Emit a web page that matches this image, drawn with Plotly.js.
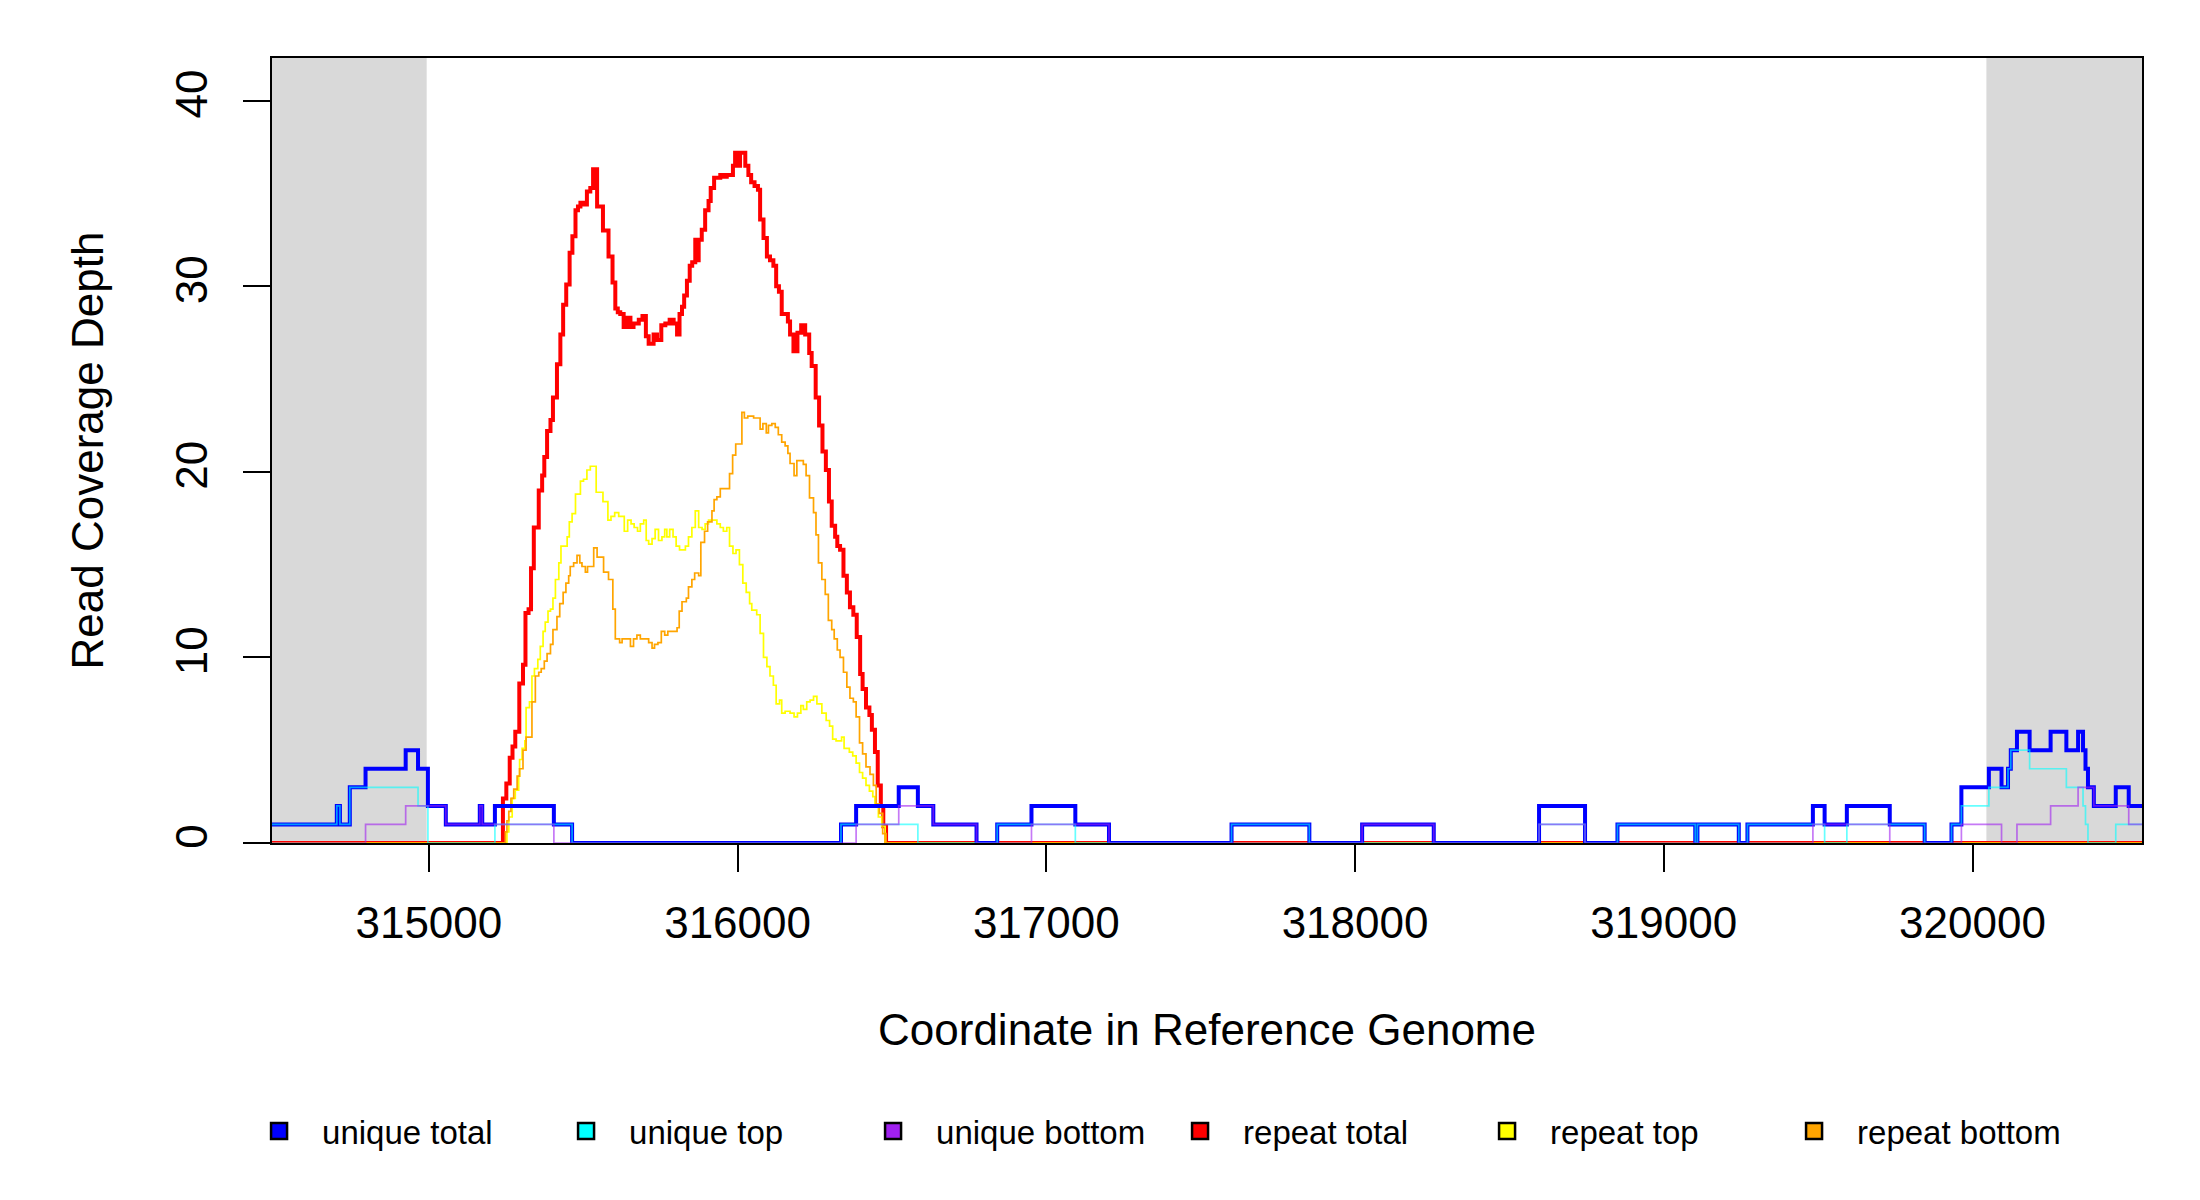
<!DOCTYPE html>
<html>
<head>
<meta charset="utf-8">
<script src="https://cdn.plot.ly/plotly-3.0.1.min.js"></script>
<style>
  html, body { margin: 0; padding: 0; background: #fff; }
  #chart { width: 2200px; height: 1200px; }
</style>
</head>
<body>
<div id="chart"></div>
<script>
// coverage values, step starts (bp) and depth
const xRange = [314492, 320549];
const yRange = [0, 42.3];
const flankLeft = [314492, 314993];
const flankRight = [320045, 320549];

const tickVals = [315000, 316000, 317000, 318000, 319000, 320000];
const tickText = ['315000', '316000', '317000', '318000', '319000', '320000'];
const yTickVals = [0, 10, 20, 30, 40];

const uniqueTotalX = [314480, 314702, 314712, 314744, 314795, 314925, 314965, 314997, 315055, 315165,
  315173, 315214, 315405, 315464, 316335, 316384, 316522, 316584, 316634, 316774,
  316841, 316952, 317094, 317203, 317600, 317852, 318023, 318255, 318596, 318745,
  318850, 319102, 319109, 319243, 319271, 319483, 319521, 319593, 319732, 319845,
  319932, 319964, 320053, 320094, 320115, 320124, 320144, 320185, 320253, 320304,
  320342, 320358, 320366, 320374, 320393, 320464, 320506, 320560];
const uniqueTotalY = [1, 2, 1, 3, 4, 5, 4, 2, 1, 2,
  1, 2, 1, 0, 1, 2, 3, 2, 1, 0,
  1, 2, 1, 0, 1, 0, 1, 0, 2, 0,
  1, 0, 1, 0, 1, 2, 1, 2, 1, 0,
  1, 3, 4, 3, 4, 5, 6, 5, 6, 5,
  6, 5, 4, 3, 2, 3, 2, 2];

const uniqueTopX = [314480, 314702, 314712, 314744, 314965, 314997, 315214, 315464, 316335, 316584,
  316841, 317094, 317600, 317852, 318596, 318745, 318850, 319102, 319109, 319243,
  319271, 319521, 319593, 319845, 319932, 319964, 320053, 320115, 320124, 320185,
  320304, 320358, 320366, 320374, 320464, 320560];
const uniqueTopY = [1, 2, 1, 3, 2, 0, 1, 0, 1, 0,
  1, 0, 1, 0, 1, 0, 1, 0, 1, 0,
  1, 0, 1, 0, 1, 2, 3, 4, 5, 4,
  3, 2, 1, 0, 1, 1];

const uniqueBottomX = [314480, 314795, 314925, 315055, 315165, 315173, 315405, 316384, 316522, 316634,
  316774, 316952, 317203, 318023, 318255, 318596, 318745, 319483, 319732, 319964,
  320094, 320144, 320253, 320342, 320393, 320506, 320560];
const uniqueBottomY = [0, 1, 2, 1, 2, 1, 0, 1, 2, 1,
  0, 1, 0, 1, 0, 1, 0, 1, 0, 1,
  0, 1, 2, 3, 2, 1, 1];

const repeatTotalX = [314480, 315240, 315251, 315262, 315271, 315280, 315293, 315305, 315313, 315323,
  315331, 315340, 315356, 315367, 315374, 315383, 315394, 315402, 315415, 315426,
  315435, 315445, 315456, 315465, 315475, 315483, 315491, 315504, 315512, 315523,
  315532, 315545, 315564, 315582, 315595, 315604, 315612, 315620, 315631, 315642,
  315653, 315663, 315680, 315692, 315703, 315712, 315728, 315739, 315753, 315766,
  315780, 315793, 315804, 315812, 315820, 315827, 315836, 315845, 315853, 315863,
  315868, 315874, 315884, 315895, 315906, 315913, 315924, 315944, 315954, 315965,
  315985, 315992, 316003, 316008, 316025, 316035, 316044, 316055, 316066, 316073,
  316084, 316095, 316105, 316116, 316125, 316134, 316143, 316163, 316170, 316181,
  316194, 316206, 316219, 316232, 316240, 316253, 316264, 316275, 316286, 316296,
  316305, 316316, 316323, 316332, 316343, 316354, 316364, 316375, 316386, 316397,
  316405, 316416, 316427, 316435, 316445, 316454, 316464, 316472, 316481, 320560];
const repeatTotalY = [0, 2.4, 3.2, 4.6, 5.2, 6.0, 8.6, 9.6, 12.4, 12.6,
  14.8, 17.0, 19.0, 19.8, 20.8, 22.2, 22.8, 24.0, 25.8, 27.4,
  29.0, 30.1, 31.8, 32.7, 34.1, 34.3, 34.5, 34.4, 35.1, 35.3,
  36.3, 34.3, 33.0, 31.6, 30.2, 28.8, 28.6, 28.5, 27.8, 28.3,
  27.8, 28.0, 28.2, 28.4, 27.3, 26.9, 27.4, 27.1, 27.9, 28.0,
  28.2, 28.0, 27.4, 28.5, 28.9, 29.5, 30.3, 31.1, 31.3, 32.5,
  31.4, 32.5, 33.05, 34.1, 34.6, 35.3, 35.85, 36.0, 35.9, 36.0,
  36.5, 37.2, 36.5, 37.2, 36.5, 36.0, 35.6, 35.4, 35.2, 33.6,
  32.6, 31.6, 31.4, 31.1, 30.0, 29.7, 28.5, 28.1, 27.4, 26.5,
  27.5, 27.9, 27.4, 26.4, 25.7, 24.0, 22.5, 21.1, 20.1, 18.4,
  17.1, 16.5, 16.0, 15.8, 14.4, 13.5, 12.7, 12.3, 11.1, 9.1,
  8.3, 7.3, 6.9, 6.1, 4.9, 3.1, 2.0, 0.9, 0, 0];

const repeatTopX = [314480, 315253, 315259, 315270, 315280, 315291, 315294, 315302, 315311, 315315,
  315326, 315334, 315342, 315353, 315361, 315370, 315377, 315386, 315394, 315402,
  315410, 315421, 315428, 315448, 315455, 315464, 315475, 315491, 315501, 315512,
  315523, 315542, 315564, 315580, 315590, 315602, 315615, 315633, 315644, 315655,
  315665, 315676, 315685, 315696, 315704, 315712, 315723, 315733, 315744, 315755,
  315764, 315771, 315780, 315791, 315801, 315812, 315831, 315841, 315852, 315863,
  315874, 315885, 315895, 315906, 315933, 315944, 315954, 315965, 315974, 315985,
  315995, 316006, 316017, 316028, 316039, 316046, 316062, 316073, 316084, 316095,
  316105, 316116, 316125, 316136, 316143, 316154, 316170, 316183, 316194, 316205,
  316213, 316224, 316235, 316246, 316257, 316273, 316287, 316298, 316308, 316319,
  316337, 316345, 316362, 316373, 316384, 316395, 316405, 316416, 316427, 316438,
  316445, 316456, 316467, 316478, 320560];
const repeatTopY = [0, 0.6, 1.4, 2.4, 2.85, 3.6, 4.5, 5.1, 5.5, 7.3,
  7.6, 9.0, 9.4, 9.9, 10.6, 11.4, 11.9, 12.5, 12.6, 13.2,
  14.2, 15.1, 16.0, 16.5, 17.3, 17.75, 18.8, 19.5, 19.6, 20.1,
  20.3, 18.9, 18.4, 17.4, 17.6, 17.8, 17.6, 16.8, 17.4, 17.2,
  17.0, 16.8, 17.2, 17.4, 16.3, 16.1, 16.4, 16.9, 16.3, 16.5,
  16.9, 16.5, 16.9, 16.5, 16.0, 15.8, 16.0, 16.5, 17.0, 17.9,
  17.0, 16.9, 17.2, 17.4, 17.2, 17.0, 16.8, 17.0, 16.0, 15.6,
  15.8, 15.0, 14.0, 13.5, 12.9, 12.55, 12.3, 11.3, 10.0, 9.5,
  9.0, 8.5, 7.5, 7.7, 7.0, 7.1, 7.0, 6.8, 7.0, 7.4,
  7.2, 7.6, 7.7, 7.9, 7.5, 7.0, 6.6, 6.3, 5.6, 5.5,
  5.7, 5.1, 4.9, 4.7, 4.3, 3.8, 3.5, 3.1, 2.8, 2.5,
  2.1, 1.4, 0.9, 0, 0];

const repeatBottomX = [314480, 315248, 315253, 315259, 315266, 315275, 315286, 315294, 315305, 315315,
  315334, 315345, 315356, 315364, 315374, 315383, 315394, 315402, 315415, 315424,
  315435, 315444, 315453, 315458, 315469, 315480, 315489, 315496, 315507, 315514,
  315534, 315545, 315566, 315582, 315596, 315604, 315618, 315626, 315653, 315663,
  315674, 315685, 315712, 315723, 315731, 315742, 315753, 315764, 315774, 315804,
  315811, 315820, 315834, 315841, 315852, 315861, 315874, 315881, 315893, 315903,
  315917, 315924, 315933, 315944, 315974, 315984, 315994, 316014, 316022, 316033,
  316052, 316073, 316082, 316093, 316100, 316111, 316122, 316132, 316143, 316154,
  316163, 316170, 316183, 316192, 316213, 316222, 316233, 316246, 316254, 316262,
  316273, 316284, 316294, 316305, 316313, 316323, 316332, 316343, 316354, 316364,
  316375, 316384, 316395, 316405, 316416, 316429, 316440, 316449, 316459, 316470,
  316481, 320560];
const repeatBottomY = [0, 0.6, 1.2, 1.7, 2.4, 2.9, 3.6, 4.0, 5.0, 5.7,
  7.6, 9.0, 9.2, 9.4, 9.8, 10.2, 10.7, 11.5, 12.2, 12.9,
  13.5, 14.0, 14.4, 14.9, 15.1, 15.5, 15.1, 14.9, 14.6, 14.9,
  15.9, 15.4, 14.6, 14.2, 12.6, 11.0, 10.8, 11.0, 10.6, 11.0,
  11.2, 11.0, 10.8, 10.5, 10.7, 10.8, 11.4, 11.2, 11.4, 11.6,
  12.5, 13.0, 13.2, 13.8, 14.2, 14.55, 14.4, 16.2, 16.8, 17.3,
  17.9, 18.5, 18.65, 19.1, 19.9, 20.9, 21.5, 23.2, 22.9, 23.0,
  22.9, 22.3, 22.6, 22.1, 22.5, 22.6, 22.4, 22.0, 21.6, 21.4,
  21.0, 20.45, 19.8, 20.6, 20.4, 19.8, 18.6, 17.8, 16.6, 15.1,
  14.2, 13.4, 12.0, 11.5, 11.0, 10.4, 10.0, 9.2, 8.4, 7.8,
  7.6, 6.8, 5.4, 4.8, 4.1, 3.7, 3.1, 2.1, 1.6, 0.5,
  0, 0];

const seriesNames = ['unique total', 'unique top', 'unique bottom', 'repeat total', 'repeat top', 'repeat bottom'];
const seriesColors = ['#0000ff', '#00ffff', '#a020f0', '#ff0000', '#ffff00', '#ffa500'];

const fontFamily = '"Liberation Sans", Arial, Helvetica, sans-serif';

function stepLine(x, y, color, width, opacity) {
  return {
    type: 'scatter',
    mode: 'lines',
    x: x,
    y: y,
    line: { shape: 'hv', color: color, width: width },
    opacity: opacity,
    showlegend: false,
    hoverinfo: 'skip'
  };
}

// drawing order: repeat lines first, unique lines on top
let data = [
  stepLine(repeatTotalX, repeatTotalY, seriesColors[3], 4, 1),
  stepLine(repeatTopX, repeatTopY, seriesColors[4], 1.7, 1),
  stepLine(repeatBottomX, repeatBottomY, seriesColors[5], 1.7, 1),
  stepLine(uniqueTotalX, uniqueTotalY, seriesColors[0], 4, 1),
  stepLine(uniqueTopX, uniqueTopY, seriesColors[1], 1.7, 0.6),
  stepLine(uniqueBottomX, uniqueBottomY, seriesColors[2], 1.7, 0.6)
];

// legend swatches
for (let i = 0; i < seriesNames.length; i++) {
  data.push({
    type: 'scatter',
    mode: 'markers',
    x: [null],
    y: [null],
    name: seriesNames[i],
    marker: { symbol: 'square', size: 16, color: seriesColors[i], line: { color: '#000', width: 2.5 } },
    showlegend: true
  });
}

let axisCommon = {
  showgrid: false,
  zeroline: false,
  showline: true,
  mirror: true,
  linecolor: '#000',
  linewidth: 2,
  ticks: 'outside',
  ticklen: 27,
  tickwidth: 2,
  tickcolor: '#000',
  layer: 'below traces',
  tickfont: { family: fontFamily, size: 44, color: '#000' }
};

let layout = {
  width: 2200,
  height: 1200,
  paper_bgcolor: '#fff',
  plot_bgcolor: '#fff',
  font: { family: fontFamily, size: 44, color: '#000' },
  margin: { l: 272, r: 58, t: 58, b: 357, pad: 0 },
  xaxis: Object.assign({}, axisCommon, {
    range: xRange,
    tickmode: 'array',
    tickvals: tickVals,
    ticktext: tickText,
    ticklabelstandoff: 13,
    automargin: false,
    title: { text: 'Coordinate in Reference Genome', standoff: 68, font: { family: fontFamily, size: 44, color: '#000' } }
  }),
  yaxis: Object.assign({}, axisCommon, {
    range: yRange,
    tickmode: 'array',
    tickvals: yTickVals,
    tickangle: -90,
    ticklabelstandoff: 18,
    automargin: false,
    title: { text: 'Read Coverage Depth', standoff: 50, font: { family: fontFamily, size: 44, color: '#000' } }
  }),
  shapes: [
    { type: 'rect', xref: 'x', yref: 'paper', x0: flankLeft[0], x1: flankLeft[1], y0: 0, y1: 1,
      fillcolor: '#d9d9d9', line: { width: 0 }, layer: 'below' },
    { type: 'rect', xref: 'x', yref: 'paper', x0: flankRight[0], x1: flankRight[1], y0: 0, y1: 1,
      fillcolor: '#d9d9d9', line: { width: 0 }, layer: 'below' }
  ],
  showlegend: true,
  legend: {
    orientation: 'h',
    xref: 'container',
    yref: 'container',
    x: 0.1073,
    y: 0.0575,
    xanchor: 'left',
    yanchor: 'middle',
    itemwidth: 76,
    entrywidth: 216,
    entrywidthmode: 'pixels',
    font: { family: fontFamily, size: 33, color: '#000' },
    bgcolor: 'rgba(0,0,0,0)',
    borderwidth: 0
  }
};

Plotly.newPlot('chart', data, layout, { displayModeBar: false, staticPlot: true });
</script>
</body>
</html>
